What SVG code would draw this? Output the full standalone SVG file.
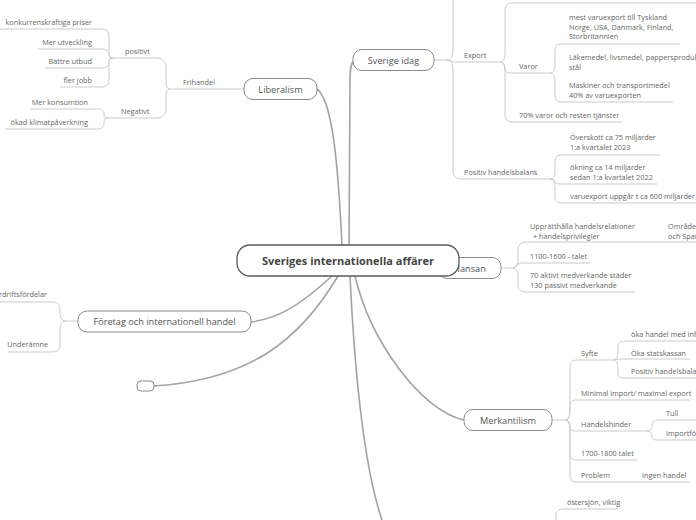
<svg xmlns="http://www.w3.org/2000/svg" width="696" height="520" viewBox="0 0 696 520">
<style>
.bg{fill:#fff}
.main{fill:none;stroke:#a3a3a3;stroke-width:1.6}
.sub{fill:none;stroke:#cbcbcb;stroke-width:1}
.n1 rect{fill:#fff;stroke:#8a8a8a;stroke-width:1}
.n1 text{font-family:"Open Sans","Noto Sans",sans-serif;font-size:9.2px;fill:#555;text-anchor:middle}
.c rect{fill:#fff;stroke:#5a5a5a;stroke-width:1.3}
.c text{font-family:"Open Sans","Noto Sans",sans-serif;font-size:11px;font-weight:bold;fill:#444;text-anchor:middle}
.t{font-family:"Open Sans","Noto Sans",sans-serif;font-size:7.3px;fill:#666}
.r{text-anchor:end}
</style>
<rect class="bg" x="0" y="0" width="696" height="520"/>
<g id="connectors">
<path class="main" d="M342,246 C338,160 332,100 317,89"/>
<path class="main" d="M349,246 L350,80 C350,68 351,62 355,60"/>
<path class="main" d="M332,276 C300,305 280,318 251,322"/>
<path class="main" d="M338,276 C300,340 250,380 154,386"/>
<path class="main" d="M355,276 C370,340 420,410 464,420"/>
<path class="main" d="M350,276 C355,380 365,470 382,520"/>
<path class="main" d="M430,266 L440,267"/>
<!-- Liberalism -->
<path class="sub" d="M244,89 L170,89"/>
<path class="sub" d="M170,89 C166,89 166,85 166,78 L166,68 C166,61 162,58 156,58 L113,58"/>
<path class="sub" d="M170,89 C166,89 166,93 166,100 L166,108 C166,115 162,118 156,118 L107,118"/>
<path class="sub" d="M113,58 C109,58 109,55 109,50 L109,37 C109,31 106,29 101,29 L0,29"/>
<path class="sub" d="M113,58 C109,58 109,56 109,54 C109,51 106,49 101,49 L38,49"/>
<path class="sub" d="M113,58 C109,58 109,60 109,62 C109,66 106,68 101,68 L45,68"/>
<path class="sub" d="M113,58 C109,58 109,61 109,66 L109,79 C109,85 106,87 101,87 L60,87"/>
<path class="sub" d="M107,118 C104,118 104,116 104,114 C104,111 102,109 98,109 L30,109"/>
<path class="sub" d="M107,118 C104,118 104,120 104,123 C104,127 102,129 98,129 L5,129"/>
<!-- Sverige idag -->
<path class="sub" d="M434,60 L447,60"/>
<path class="sub" d="M447,60 C451,60 453,56 453,50 L453,-5"/>
<path class="sub" d="M447,60 C451,60 452,62 456,62 L500,62"/>
<path class="sub" d="M447,60 C451,60 453,64 453,70 L453,170 C453,176 456,179 462,179 L550,179"/>
<path class="sub" d="M500,62 C504,62 505,58 505,52 L505,12 C505,6 507,3 512,3 L696,3"/>
<path class="sub" d="M500,62 C504,62 505,66 505,69 C505,72 507,73 511,73 L550,73"/>
<path class="sub" d="M500,62 C504,62 505,66 505,72 L505,114 C505,119 508,122 513,122 L622,122"/>
<path class="sub" d="M550,73 C554,73 555,69 555,63 L555,51 C555,46 557,44 562,44 L680,44"/>
<path class="sub" d="M550,73 C554,73 555,77 555,83 L555,95 C555,100 557,102 562,102 L673,102"/>
<path class="sub" d="M550,179 C554,179 555,175 555,170 L555,162 C555,157 557,155 562,155 L660,155"/>
<path class="sub" d="M550,179 C554,179 555,181 555,182 C555,183 557,184 560,184 L657,184"/>
<path class="sub" d="M550,179 C554,179 555,183 555,188 L555,197 C555,201 557,203 562,203 L696,203"/>
<!-- Hansan -->
<path class="sub" d="M501,268 L513,268"/>
<path class="sub" d="M513,268 C517,268 518,264 518,258 L518,250 C518,245 521,242 526,242 L696,242"/>
<path class="sub" d="M513,268 C516,268 517,263 522,263 L590,263"/>
<path class="sub" d="M513,268 C517,268 518,272 518,278 L518,285 C518,290 521,292 526,292 L635,292"/>
<!-- Foretag -->
<path class="sub" d="M78,321 L66,321"/>
<path class="sub" d="M66,321 C61,321 60,317 60,312 L60,309 C60,304 57,302 52,302 L0,302"/>
<path class="sub" d="M66,321 C61,321 60,325 60,330 L60,345 C60,350 57,352 52,352 L8,352"/>
<!-- Merkantilism -->
<path class="sub" d="M552,420 L565,420"/>
<path class="sub" d="M565,420 C569,420 570,415 570,408 L570,368 C570,363 572,360 577,360 L613,360"/>
<path class="sub" d="M565,420 C569,420 570,415 570,410 L570,407 C570,402 572,400 577,400 L690,400"/>
<path class="sub" d="M565,420 C569,420 570,424 570,427 C570,430 572,431 577,431 L647,431"/>
<path class="sub" d="M565,420 C569,420 570,425 570,430 L570,453 C570,458 572,460 577,460 L637,460"/>
<path class="sub" d="M565,420 C569,420 570,425 570,430 L570,475 C570,480 572,482 577,482 L690,482"/>
<path class="sub" d="M613,360 C617,360 618,356 618,350 L618,347 C618,343 620,341 625,341 L696,341"/>
<path class="sub" d="M613,360 C616,360 617,359 621,359 L690,359"/>
<path class="sub" d="M613,360 C617,360 618,364 618,370 L618,373 C618,377 620,378 625,378 L696,378"/>
<path class="sub" d="M647,431 C651,431 652,428 652,425 C652,422 654,420 658,420 L696,420"/>
<path class="sub" d="M647,431 C651,431 652,434 652,437 C652,439 654,440 658,440 L696,440"/>
<!-- bottom -->
<path class="sub" d="M556,520 L556,516 C556,511 559,509 564,509 L618,509"/>
</g>
<g id="liberalism-sub">
<text class="t" x="183" y="85">Frihandel</text>
<text class="t" x="125" y="54">positivt</text>
<text class="t" x="121" y="114">Negativt</text>
<text class="t r" x="92" y="25">konkurrenskraftiga priser</text>
<text class="t r" x="92" y="45">Mer utveckling</text>
<text class="t r" x="92" y="64">Bättre utbud</text>
<text class="t r" x="92" y="83">fler jobb</text>
<text class="t r" x="88" y="105">Mer konsumtion</text>
<text class="t r" x="88" y="125">ökad klimatpåverkning</text>
</g>
<g id="sverige-sub">
<text class="t" x="464" y="58">Export</text>
<text class="t" x="519" y="69">Varor</text>
<text class="t" x="519" y="118">70% varor och resten tjänster</text>
<text class="t" x="569" y="20">mest varuexport till Tyskland</text>
<text class="t" x="569" y="29.5">Norge, USA, Danmark, Finland,</text>
<text class="t" x="569" y="39">Storbritannien</text>
<text class="t" x="569" y="60">Läkemedel, livsmedel, pappersprodukter</text>
<text class="t" x="569" y="69.5">stål</text>
<text class="t" x="569" y="88">Maskiner och transportmedel</text>
<text class="t" x="569" y="97.5">40% av varuexporten</text>
<text class="t" x="464" y="175">Positiv handelsbalans</text>
<text class="t" x="570" y="140">Överskott ca 75 miljarder</text>
<text class="t" x="570" y="149.5">1:a kvartalet 2023</text>
<text class="t" x="570" y="170">ökning ca 14 miljarder</text>
<text class="t" x="570" y="179.5">sedan 1:a kvartalet 2022</text>
<text class="t" x="570" y="199">varuexport uppgår t ca 600 miljarder</text>
</g>
<g id="hansan-sub">
<text class="t" x="530" y="229">Upprätthålla handelsrelationer</text>
<text class="t" x="533" y="238.5">+ handelsprivilegier</text>
<text class="t" x="668" y="229">Områden</text>
<text class="t" x="668" y="238.5">och Spanien</text>
<text class="t" x="530" y="259">1100-1600 - talet</text>
<text class="t" x="530" y="278">70 aktivt medverkande städer</text>
<text class="t" x="530" y="287.5">130 passivt medverkande</text>
</g>
<g id="foretag-sub">
<text class="t r" x="47" y="297">Stordriftsfördelar</text>
<text class="t r" x="48" y="347">Underämne</text>
</g>
<g id="merkantilism-sub">
<text class="t" x="581" y="356">Syfte</text>
<text class="t" x="631" y="337">öka handel med inh</text>
<text class="t" x="631" y="356">Öka statskassan</text>
<text class="t" x="631" y="374">Positiv handelsbalans</text>
<text class="t" x="581" y="396">Minimal import/ maximal export</text>
<text class="t" x="581" y="427">Handelshinder</text>
<text class="t" x="666" y="416">Tull</text>
<text class="t" x="666" y="436">Importförbud</text>
<text class="t" x="581" y="456">1700-1800 talet</text>
<text class="t" x="581" y="478">Problem</text>
<text class="t" x="642" y="478">Ingen handel</text>
<text class="t" x="567" y="505">östersjön, viktig</text>
</g>
<g id="node-liberalism" class="n1"><rect x="244" y="78.5" width="73" height="21" rx="9"/><text x="280.5" y="92.5">Liberalism</text></g>
<g id="node-sverige-idag" class="n1"><rect x="353" y="49.5" width="81" height="21" rx="9"/><text x="393.5" y="63.5">Sverige idag</text></g>
<g id="node-hansan" class="n1"><rect x="438" y="257.5" width="63" height="21" rx="9"/><text x="469.5" y="271.5">Hansan</text></g>
<g id="node-foretag" class="n1"><rect x="78" y="311" width="173" height="21" rx="9"/><text x="164.5" y="325">Företag och internationell handel</text></g>
<g id="node-empty" class="n1"><rect x="137" y="381" width="17" height="10" rx="4"/></g>
<g id="node-merkantilism" class="n1"><rect x="464" y="409.5" width="88" height="21" rx="9"/><text x="508" y="423.5">Merkantilism</text></g>
<g id="node-center" class="c"><rect x="237" y="245" width="222" height="31" rx="13"/><text x="348" y="264.5">Sveriges internationella affärer</text></g>
</svg>
